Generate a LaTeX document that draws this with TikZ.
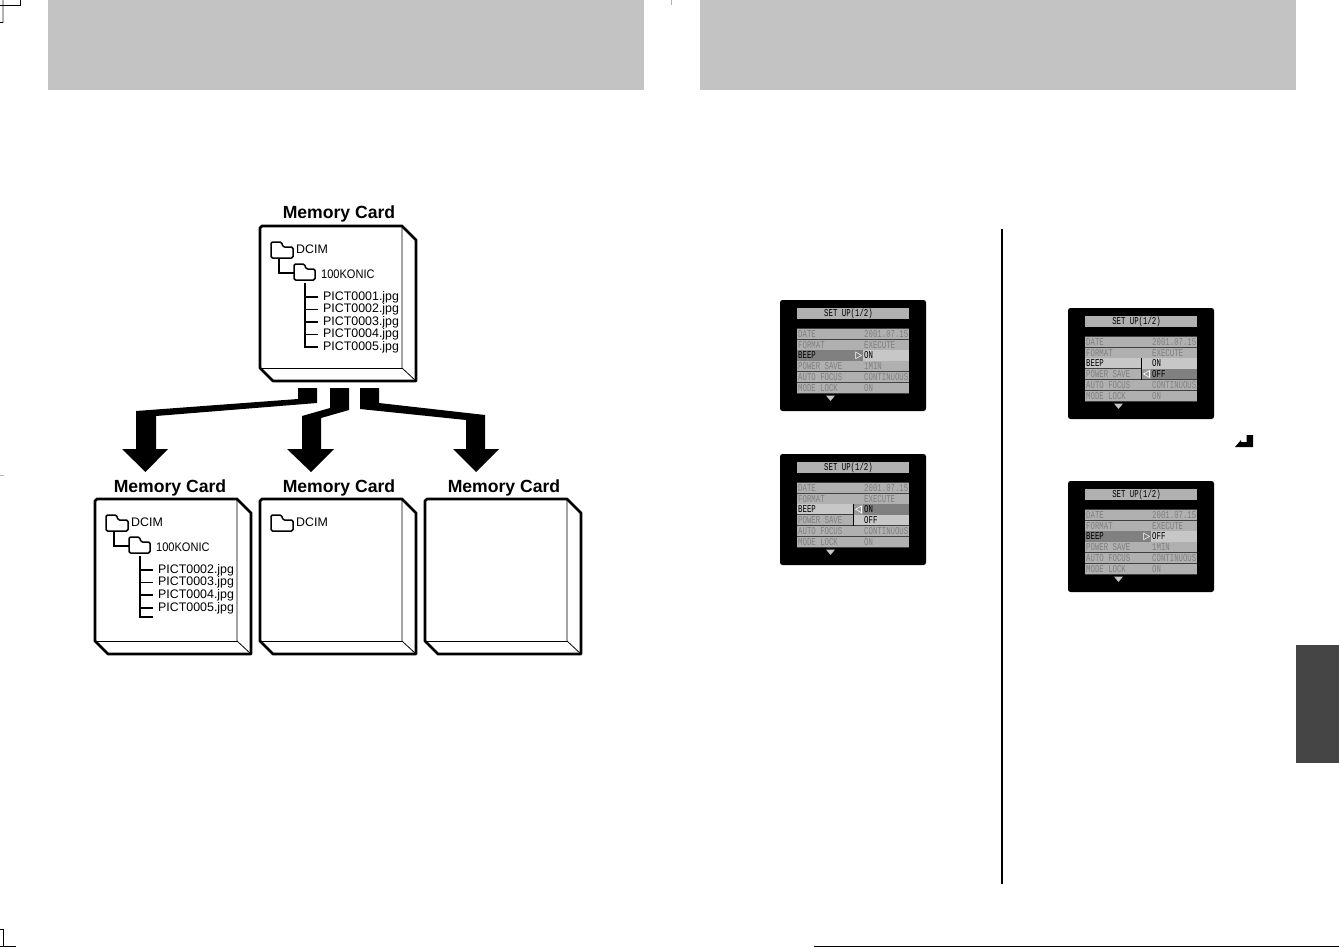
\documentclass[tikz,border=0pt]{standalone}
\usepackage{fontspec}
\setmainfont{Liberation Sans}
\newfontfamily\scrfont[FakeStretch=0.7]{Liberation Mono}
\newfontfamily\narrowsans[FakeStretch=0.89]{Liberation Sans}
\definecolor{band}{gray}{0.765}
\definecolor{tabc}{gray}{0.27}
\definecolor{rowc}{gray}{0.69}
\definecolor{rowdim}{gray}{0.5}
\definecolor{rowhi}{gray}{0.78}
\definecolor{rowdk}{gray}{0.5}
\definecolor{gutter}{gray}{0.6}
\tikzset{
  cardline/.style={line width=2.8pt,line join=round},
  thinbevel/.style={line width=0.8pt},
  folderline/.style={line width=1.5pt,line join=round,rounded corners=1.5pt},
  treeline/.style={line width=1.1pt},
  cardtitle/.style={font=\bfseries\fontsize{17.6}{17.6}\selectfont,inner sep=0pt},
  filetext/.style={font=\fontsize{12.4}{12.4}\selectfont,anchor=west,inner sep=0pt},
  dirtext/.style={font=\fontsize{12.4}{12.4}\selectfont,anchor=west,inner sep=0pt},
  konictext/.style={font=\narrowsans\fontsize{12.4}{12.4}\selectfont,anchor=west,inner sep=0pt},
  bigarrow/.style={fill=black,draw=none},
  dimtext/.style={font=\scrfont\fontsize{10.5}{10.5}\selectfont,anchor=west,inner sep=0pt,text=rowdim},
  blktext/.style={font=\scrfont\fontsize{10.5}{10.5}\selectfont,anchor=west,inner sep=0pt,text=black},
  croplight/.style={line width=1.5pt,draw=gray!60},
  cropdark/.style={line width=1.2pt,draw=black}
}
\newcommand{\cardbody}[3]{% x, y, name
  \begin{scope}[shift={(#1,#2)}]
    \draw[cardline,fill=white] (2,0) -- (142,0) -- (156,14) -- (156,155) -- (13,155) -- (0,142) -- (0,2) -- cycle;
    \draw[thinbevel] (142,0) -- (142,142) -- (156,155);
    \draw[line width=1pt] (0,142) -- (142,142);
    \coordinate (#3) at (78,77);
  \end{scope}}
\newcommand{\folderA}[2]{% x,y: top-left
  \draw[folderline,shift={(#1,#2)}] (0,16) -- (0,0) -- (10.5,0) -- (12,5) -- (22,5) -- (22,16) -- cycle;}
\newcommand{\folderB}[2]{%
  \draw[folderline,shift={(#1,#2)}] (0,16) -- (0,0) -- (10.5,0) -- (12,5) -- (21,5) -- (21,16) -- cycle;}
% screen: #1 x, #2 y, #3 id
\newcommand{\screenbase}[3]{%
  \fill[black,rounded corners=2.5pt] (#1,#2) rectangle ++(146,111);
  \begin{scope}[shift={(#1,#2)}]
    \fill[rowc] (17,8) rectangle (129,19);
    \node[blktext,anchor=center] (#3t) at (68.5,13.7) {SET UP(1/2)};
    \fill[rowc] (17,28.3) rectangle (129,93.3);
    \node[dimtext] (#3a) at (18,34) {DATE};
    \node[dimtext] (#3b) at (84,34) {2001.07.15};
    \node[dimtext] (#3c) at (18,44.8) {FORMAT};
    \node[dimtext] (#3d) at (84,44.8) {EXECUTE};
    \node[dimtext] (#3e) at (18,77.3) {AUTO FOCUS};
    \node[dimtext] (#3f) at (84,77.3) {CONTINUOUS};
    \node[dimtext] (#3g) at (18,88.1) {MODE LOCK};
    \node[dimtext] (#3h) at (84,88.1) {ON};
    \foreach \yy in {28.3,39.1,49.9,60.8,71.6,82.5,93.3}
      \draw[black!75,line width=0.7pt] (17,\yy) -- (129,\yy);
    \fill[gray!45] (46,95.5) -- (55,95.5) -- (50.5,101) -- cycle;
  \end{scope}}
\newcommand{\screenclosed}[4]{% x y id value
  \screenbase{#1}{#2}{#3}
  \begin{scope}[shift={(#1,#2)}]
    \fill[rowdk] (17,50.2) rectangle (83,60.5);
    \fill[rowhi] (83,50.2) rectangle (129,60.5);
    \node[blktext] (#3k) at (18,55.5) {BEEP};
    \node[blktext] (#3v) at (84,55.5) {#4};
    \draw[white,line width=0.5pt] (75.5,52) -- (81.5,55.4) -- (75.5,58.8) -- cycle;
    \node[dimtext] (#3p) at (18,66.2) {POWER SAVE};
    \node[dimtext] (#3q) at (84,66.2) {1MIN};
  \end{scope}}
\newcommand{\screenopen}[7]{% x y id onfill offfill tri-y gutter-top
  \screenbase{#1}{#2}{#3}
  \begin{scope}[shift={(#1,#2)}]
    \fill[rowhi] (17,50.2) rectangle (129,71.3);
    \fill[rowc] (17,61.1) rectangle (73,71.3);
    \fill[#4] (83,50.2) rectangle (129,60.5);
    \fill[#5] (83,61) rectangle (129,71.3);
    \fill[gutter] (73,#7) rectangle ++(10,10.3);
    \draw[black!75,line width=0.7pt] (17,60.8) -- (73,60.8);
    \draw[black,line width=0.8pt] (73,49.9) -- (73,71.6);
    \node[blktext] (#3k) at (18,55.5) {BEEP};
    \node[blktext] (#3v) at (84,55.5) {ON};
    \node[dimtext] (#3p) at (18,66.2) {POWER SAVE};
    \node[blktext] (#3q) at (84,66.2) {OFF};
    \draw[white,line width=0.6pt] (81.5,#6-3.4) -- (75.5,#6) -- (81.5,#6+3.4) -- cycle;
  \end{scope}}
\begin{document}
\begin{tikzpicture}[x=1pt,y=-1pt]
\useasboundingbox (0,0) rectangle (1339,947);
\fill[white] (0,0) rectangle (1339,947);
% bands
\fill[band] (48,0) rectangle (644,90);
\fill[band] (700,0) rectangle (1296,90);
\fill[tabc] (1296,645) rectangle (1339,763);
% crop marks
\draw[croplight] (3,0) -- (3,23);
\draw[cropdark] (0,5.5) -- (20.5,5.5) -- (20.5,0);
\draw[cropdark] (0,22.5) -- (3,22.5);
\draw[croplight] (671.5,0) -- (671.5,5);
\draw[line width=0.6pt,draw=gray!60] (0,475) -- (4,475);
\draw[black,line width=0.9pt] (0,929.5) -- (3,929.5) -- (3,947);
\draw[black,line width=1.4pt] (0,946.3) -- (16,946.3);
\draw[black,line width=1.4pt] (814,946.3) -- (1339,946.3);
% divider
\draw[black,line width=1.6pt] (1002,229) -- (1002,884);
% main card
\node[cardtitle] (t0) at (339,213.5) {Memory Card};
\cardbody{260}{226}{c0}
\folderA{271}{242}
\node[dirtext] (d0) at (296,249) {DCIM};
\draw[treeline] (279,258) -- (279,273) -- (294,273);
\folderB{294}{264}
\node[konictext] (k0) at (321,274) {100KONIC};
\draw[treeline] (305,283) -- (305,347) -- (318,347);
\foreach \yy/\nn in {297/1,309.5/2,322/3,334.5/4,347/5}{
  \draw[treeline] (305,\yy) -- (318,\yy);
  \node[filetext] (f0\nn) at (323,\yy) {PICT000\nn.jpg};
}
% arrows
\fill[bigarrow] (298,388) -- (317,388) -- (317,403) -- (156,416) -- (156,449) -- (168,449) -- (145.5,472) -- (122,449) -- (136,449) -- (136,411) -- (298,399) -- cycle;
\fill[bigarrow] (330,388) -- (349,388) -- (349,410) -- (321,418) -- (321,449) -- (334,449) -- (311,472) -- (287,449) -- (302,449) -- (302,416) -- (330,408) -- cycle;
\fill[bigarrow] (360,388) -- (379,388) -- (379,403) -- (485,415) -- (485,449) -- (499,449) -- (476,472) -- (453,449) -- (466,449) -- (466,420) -- (360,409) -- cycle;
% lower cards
\node[cardtitle] (t1) at (170,487.5) {Memory Card};
\node[cardtitle] (t2) at (339,487.5) {Memory Card};
\node[cardtitle] (t3) at (504,487.5) {Memory Card};
\cardbody{95}{499}{c1}
\cardbody{260}{499}{c2}
\cardbody{425}{499}{c3}
% card 1
\folderA{106}{515}
\node[dirtext] (d1) at (131,522) {DCIM};
\draw[treeline] (114,531) -- (114,546) -- (129,546);
\folderB{129}{537}
\node[konictext] (k1) at (156,547) {100KONIC};
\draw[treeline] (140,556) -- (140,617) -- (153,617);
\foreach \yy/\nn in {570/2,582.5/3,595/4,608/5}{
  \draw[treeline] (140,\yy) -- (153,\yy);
  \node[filetext] (f1\nn) at (158,\yy) {PICT000\nn.jpg};
}
% card 2
\folderA{271}{515}
\node[dirtext] (d2) at (296,522) {DCIM};
% screens
\screenclosed{780}{300}{sa}{ON}
\screenopen{780}{454}{sb}{rowdk}{rowhi}{55.4}{50.2}
\screenopen{1068}{308}{sc}{rowhi}{rowdk}{66}{61}
\screenclosed{1068}{481}{sd}{OFF}
% enter icon
\fill[black] (1235,447) -- (1241,440) -- (1241,442) -- (1246.5,442) -- (1246.5,435) -- (1253,435) -- (1253,447) -- cycle;
\end{tikzpicture}
\end{document}
